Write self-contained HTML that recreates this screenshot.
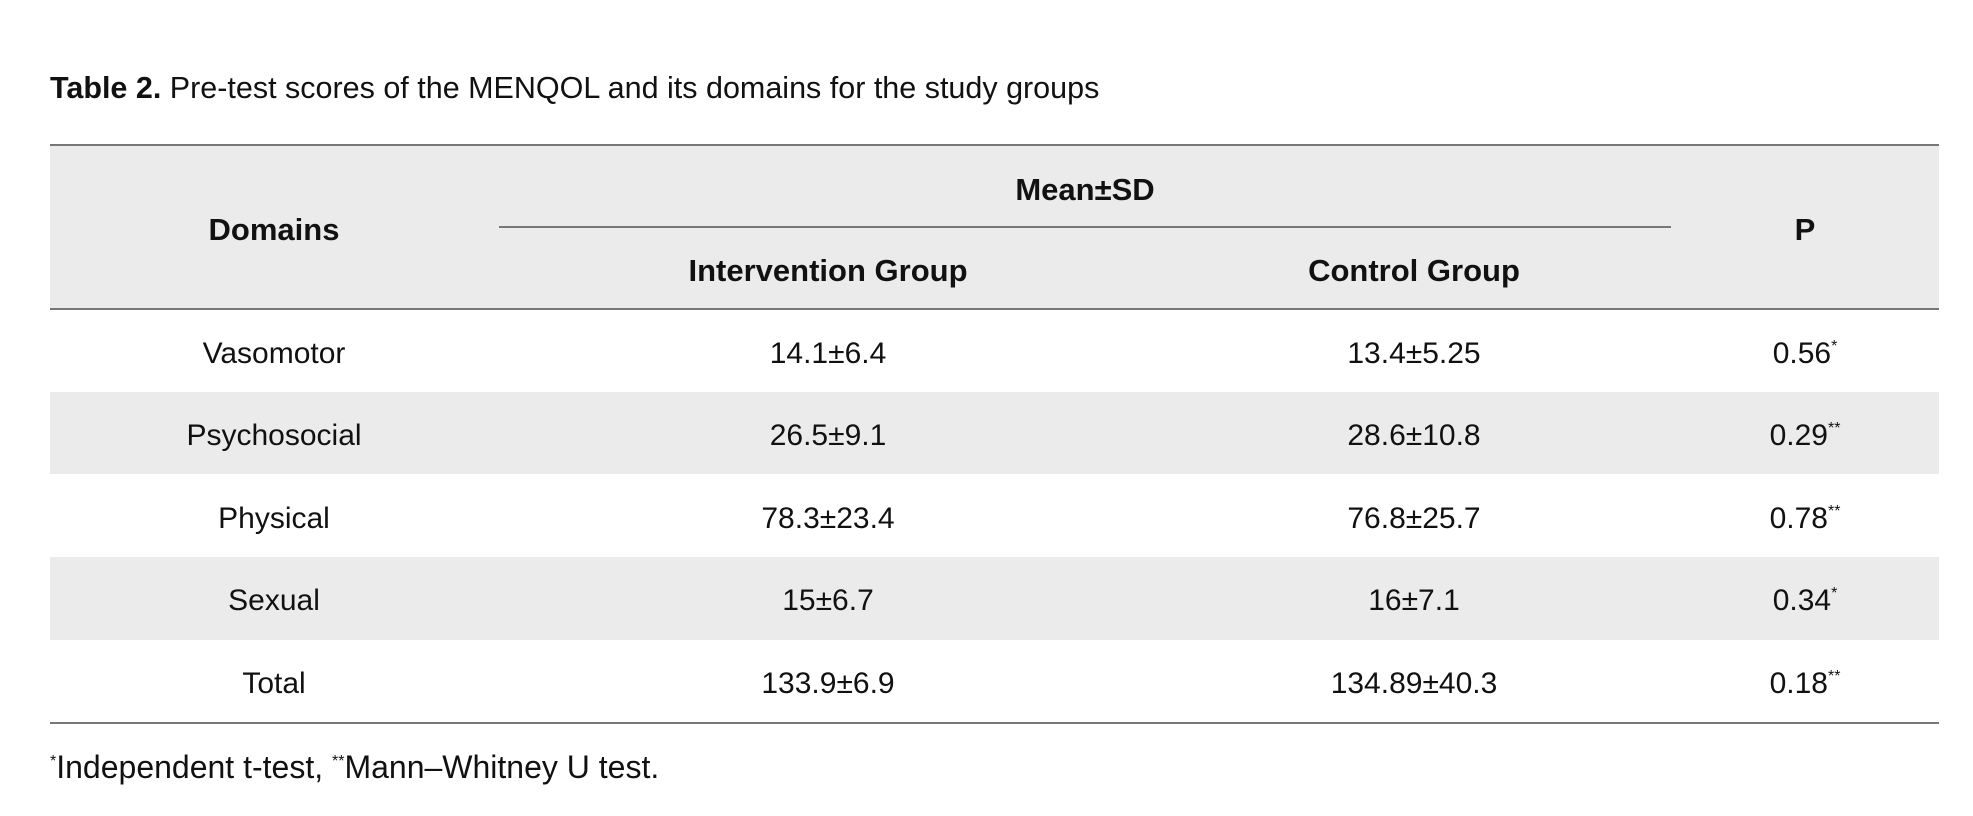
<!DOCTYPE html>
<html><head><meta charset="utf-8"><style>
body{margin:0;width:1973px;height:816px;background:#fff;position:relative;overflow:hidden;font-family:"Liberation Sans",sans-serif;color:#111}
.a{position:absolute;white-space:nowrap}
.c{position:absolute;transform:translate(-50%,-50%);white-space:nowrap;font-size:30px}
.b{font-weight:bold;font-size:31px}
.bg{position:absolute;left:50px;width:1889px;background:#ebebeb}
.ln{position:absolute;height:2px;background:#777}
sup{font-size:16px;vertical-align:12px;line-height:0}
</style></head><body>
<div class="a" style="left:50px;top:71px;font-size:30.5px"><b>Table 2.</b> Pre-test scores of the MENQOL and its domains for the study groups</div>
<div class="bg" style="top:145px;height:164px"></div>
<div class="bg" style="top:392px;height:82px"></div>
<div class="bg" style="top:557px;height:83px"></div>
<div class="ln" style="left:50px;width:1889px;top:144px"></div>
<div class="ln" style="left:499px;width:1172px;top:226px"></div>
<div class="ln" style="left:50px;width:1889px;top:308px"></div>
<div class="ln" style="left:50px;width:1889px;top:722px"></div>
<div class="c b" style="left:274px;top:230px">Domains</div>
<div class="c b" style="left:1085px;top:190px">Mean±SD</div>
<div class="c b" style="left:1805px;top:230px">P</div>
<div class="c b" style="left:828px;top:271px">Intervention Group</div>
<div class="c b" style="left:1414px;top:271px">Control Group</div>

<div class="c" style="left:274px;top:354px">Vasomotor</div>
<div class="c" style="left:828px;top:354px">14.1±6.4</div>
<div class="c" style="left:1414px;top:354px">13.4±5.25</div>
<div class="c" style="left:1805px;top:354px">0.56<sup>*</sup></div>

<div class="c" style="left:274px;top:436px">Psychosocial</div>
<div class="c" style="left:828px;top:436px">26.5±9.1</div>
<div class="c" style="left:1414px;top:436px">28.6±10.8</div>
<div class="c" style="left:1805px;top:436px">0.29<sup>**</sup></div>

<div class="c" style="left:274px;top:519px">Physical</div>
<div class="c" style="left:828px;top:519px">78.3±23.4</div>
<div class="c" style="left:1414px;top:519px">76.8±25.7</div>
<div class="c" style="left:1805px;top:519px">0.78<sup>**</sup></div>

<div class="c" style="left:274px;top:601px">Sexual</div>
<div class="c" style="left:828px;top:601px">15±6.7</div>
<div class="c" style="left:1414px;top:601px">16±7.1</div>
<div class="c" style="left:1805px;top:601px">0.34<sup>*</sup></div>

<div class="c" style="left:274px;top:684px">Total</div>
<div class="c" style="left:828px;top:684px">133.9±6.9</div>
<div class="c" style="left:1414px;top:684px">134.89±40.3</div>
<div class="c" style="left:1805px;top:684px">0.18<sup>**</sup></div>

<div class="a" style="left:50px;top:749px;font-size:32px"><sup>*</sup>Independent t-test, <sup>**</sup>Mann–Whitney U test.</div>
</body></html>
